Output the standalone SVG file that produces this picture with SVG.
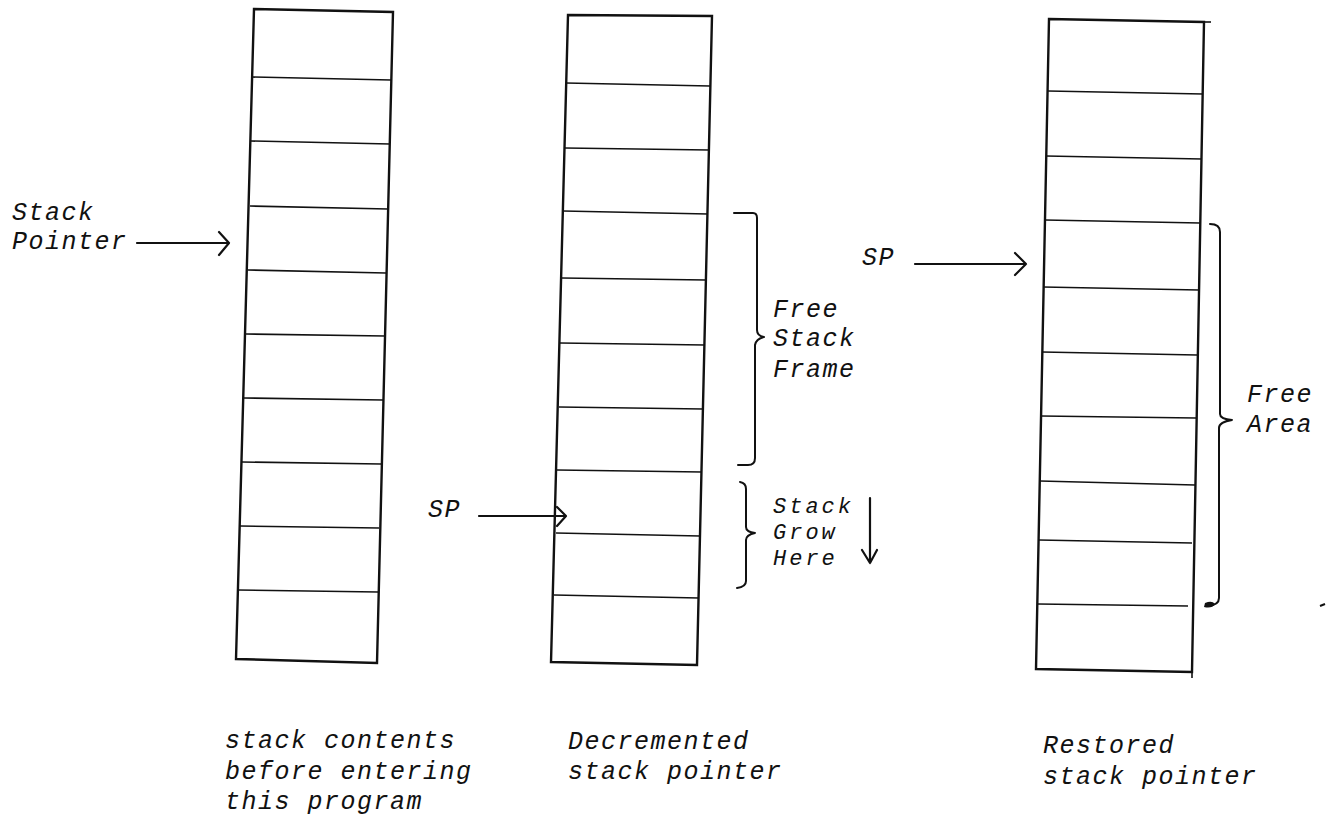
<svg xmlns="http://www.w3.org/2000/svg" width="1327" height="820" viewBox="0 0 1327 820">
<style>
.frame{fill:none;stroke:#111;stroke-width:2.4;stroke-linejoin:miter}
.cell{stroke:#111;stroke-width:1.6;fill:none}
.brace{fill:none;stroke:#111;stroke-width:2;stroke-linecap:round;stroke-linejoin:round}
.arr{fill:none;stroke:#111;stroke-width:2.2;stroke-linecap:round;stroke-linejoin:round}
.t{font-family:"Liberation Mono","DejaVu Sans Mono",monospace;font-style:italic;font-size:25px;letter-spacing:1.5px;fill:#111}
.s{font-size:22px;letter-spacing:3px}
</style>
<rect width="1327" height="820" fill="#fff"/>
<g id="stack1">
<polygon class="frame" points="254,9 393,12 377,663 236,659"/>
<line class="cell" x1="252" y1="77" x2="391" y2="80"/>
<line class="cell" x1="251" y1="141" x2="390" y2="144"/>
<line class="cell" x1="250" y1="206" x2="388" y2="209"/>
<line class="cell" x1="248" y1="270" x2="386" y2="273"/>
<line class="cell" x1="246" y1="334" x2="385" y2="336"/>
<line class="cell" x1="244" y1="398" x2="383" y2="400"/>
<line class="cell" x1="242" y1="462" x2="381" y2="464"/>
<line class="cell" x1="240" y1="526" x2="379" y2="528"/>
<line class="cell" x1="238" y1="590" x2="378" y2="592"/>
</g>
<g id="stack2">
<polygon class="frame" points="568,15 712,16 697,665 551,662"/>
<line class="cell" x1="566" y1="83" x2="710" y2="86"/>
<line class="cell" x1="565" y1="148" x2="709" y2="150"/>
<line class="cell" x1="563" y1="211" x2="708" y2="214"/>
<line class="cell" x1="562" y1="278" x2="706" y2="280"/>
<line class="cell" x1="560" y1="343" x2="705" y2="345"/>
<line class="cell" x1="559" y1="407" x2="703" y2="409"/>
<line class="cell" x1="557" y1="470" x2="702" y2="472"/>
<line class="cell" x1="556" y1="533" x2="700" y2="536"/>
<line class="cell" x1="554" y1="595" x2="699" y2="598"/>
</g>
<g id="stack3">
<polygon class="frame" points="1049,19 1204,22 1192,672 1036,669"/>
<line class="cell" x1="1204" y1="22" x2="1211" y2="22"/>
<line class="cell" x1="1192" y1="672" x2="1192" y2="678"/>
<line class="cell" x1="1048" y1="91" x2="1203" y2="94"/>
<line class="cell" x1="1046" y1="156" x2="1202" y2="159"/>
<line class="cell" x1="1045" y1="220" x2="1200" y2="223"/>
<line class="cell" x1="1043" y1="287" x2="1199" y2="290"/>
<line class="cell" x1="1042" y1="352" x2="1197" y2="355"/>
<line class="cell" x1="1041" y1="416" x2="1196" y2="418"/>
<line class="cell" x1="1040" y1="481" x2="1195" y2="485"/>
<line class="cell" x1="1039" y1="540" x2="1192" y2="543"/>
<line class="cell" x1="1038" y1="604" x2="1188" y2="606"/>
</g>
<g id="connectors">
<path class="arr" d="M137,243 H229 M219,232 L229,243 L219,255"/>
<path class="arr" d="M479,516 H566 M557,507 L566,516 L557,526"/>
<path class="arr" d="M915,264 H1026 M1015,253 L1026,264 L1015,275"/>
<path class="arr" d="M870,498 V563 M862,550 L870,563 L877,550"/>
<path class="brace" d="M734,213 H753 Q757,213 757,218 V330 Q757,336 764,337 Q756,339 755,345 V458 Q755,465 748,465 H738"/>
<path class="brace" d="M740,482 Q746,483 746,489 V527 Q746,532 755,533 Q746,535 746,540 V581 Q746,587 737,588"/>
<path class="brace" d="M1210,224 Q1220,224 1220,232 V414 Q1220,419 1232,420 Q1219,422 1219,428 V598 Q1219,605 1208,606"/>
<path d="M1205,603 Q1212,600 1215,604 Q1212,609 1204,607 Z" fill="#111"/>
<line x1="1320" y1="606" x2="1325" y2="604" stroke="#111" stroke-width="2"/>
</g>
<g id="label-stack-pointer">
<text class="t" x="12" y="220">Stack</text>
<text class="t" x="12" y="249">Pointer</text>
</g>
<g id="label-sp-left"><text class="t" x="428" y="517">SP</text></g>
<g id="label-sp-right"><text class="t" x="862" y="265">SP</text></g>
<g id="label-free-stack-frame">
<text class="t" x="773" y="317">Free</text>
<text class="t" x="773" y="346">Stack</text>
<text class="t" x="773" y="377">Frame</text>
</g>
<g id="label-stack-grow">
<text class="t s" x="773" y="513">Stack</text>
<text class="t s" x="773" y="539">Grow</text>
<text class="t s" x="773" y="565">Here</text>
</g>
<g id="label-free-area">
<text class="t" x="1247" y="402">Free</text>
<text class="t" x="1247" y="432">Area</text>
</g>
<g id="caption1">
<text class="t" x="225" y="748">stack contents</text>
<text class="t" x="225" y="779">before entering</text>
<text class="t" x="225" y="809">this program</text>
</g>
<g id="caption2">
<text class="t" x="568" y="749">Decremented</text>
<text class="t" x="568" y="779">stack pointer</text>
</g>
<g id="caption3">
<text class="t" x="1043" y="753">Restored</text>
<text class="t" x="1043" y="784">stack pointer</text>
</g>
</svg>
